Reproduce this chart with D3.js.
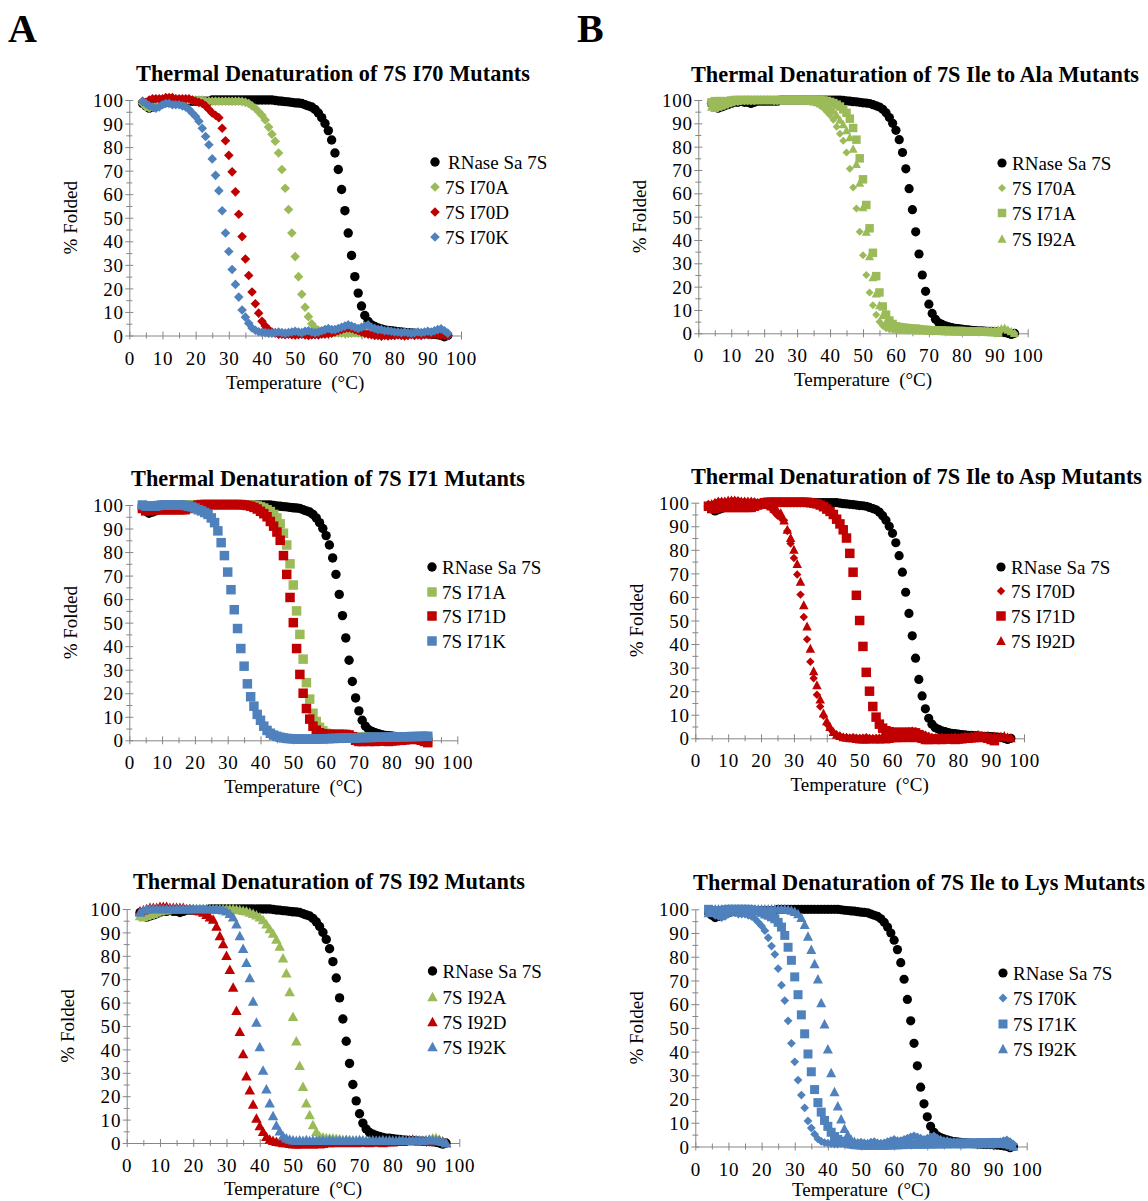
<!DOCTYPE html>
<html>
<head>
<meta charset="utf-8">
<script src="https://cdn.jsdelivr.net/npm/d3@7"></script>
<style>
  body { margin: 0; background: #fff; }
  svg { display: block; }
  text { font-family: "Liberation Serif", "Times New Roman", serif; fill: #000; }
</style>
</head>
<body>
<script>
// Temperature grid of the melts (°C)
const temps = [
   4,  5,  6,  7,  8,  9, 10, 11, 12, 13,
  14, 15, 16, 17, 18, 19, 20, 21, 22, 23,
  24, 25, 26, 27, 28, 29, 30, 31, 32, 33,
  34, 35, 36, 37, 38, 39, 40, 41, 42, 43,
  44, 45, 46, 47, 48, 49, 50, 51, 52, 53,
  54, 55, 56, 57, 58, 59, 60, 61, 62, 63,
  64, 65, 66, 67, 68, 69, 70, 71, 72, 73,
  74, 75, 76, 77, 78, 79, 80, 81, 82, 83,
  84, 85, 86, 87, 88, 89, 90, 91, 92, 93,
  94, 95, 96
];

// % folded, one value per temperature above
const rnase7S = [
  98.5, 97.5, 96.5, 97, 97.5, 98, 98.5, 99, 99, 99.5,
  99, 99, 98.5, 99, 99.5, 99.5, 99.5, 99.5, 99.5, 99.5,
  99.5, 100, 100, 100, 100, 100, 100, 100, 100, 100,
  100, 100, 100, 100, 100, 100, 100, 100, 100, 100,
  99.8, 99.6, 99.5, 99.3, 99.2, 99, 98.8, 98.7, 98.5, 98,
  97.5, 97, 96, 94.5, 92.5, 90, 87, 83, 77.5, 70.5,
  62, 53, 43.5, 34, 25, 18, 12.5, 8.5, 6, 4.5,
  3.8, 3.2, 2.8, 2.4, 2.1, 2, 1.8, 1.6, 1.5, 1.3,
  1.2, 1.1, 1, 0.9, 0.8, 0.8, 0.7, 0.6, 0.5, 0.3,
  0, -0.5, 0
];
const i70A = [
  98.5, 97, 96.5, 97, 97.5, 98, 98.5, 99, 99, 99.5,
  99.5, 99.5, 99.5, 99.5, 100, 100, 100, 100, 100, 99.5,
  99.5, 99.5, 99.5, 99.5, 99.5, 99.5, 99.5, 99.5, 99.5, 99.5,
  99.3, 99, 98.5, 97.5, 96.5, 95, 93.5, 91.5, 88.5, 85.5,
  82.5, 77.5, 70.5, 62.5, 53.5, 43.5, 33.5, 25, 17.5, 12,
  8, 5, 3.2, 2.2, 1.7, 1.5, 1.3, 1.2, 1.2, 1.1,
  1, 1, 0.9, 1, 1.1, 1, 0.9, 0.8, 1, 0.9,
  0.8, 0.9, 1, 0.8, 0.7, 0.8, 0.9, 0.7, 0.8, 0.6,
  0.7, 0.8, 0.6, 0.5, 0.7, 0.8, 1, 1.2, 1.5, 1.8,
  1.2, 0.5, 0
];
const i70D = [
  99.5, 99, 100, 100.5, 100.5, 100.5, 100.5, 101, 101, 101,
  100.5, 100.5, 100.5, 100.5, 100.5, 100, 99.5, 99, 98.5, 97.5,
  96, 94.5, 93.5, 92.5, 88, 82.7, 76.5, 69.5, 61, 51.5,
  42, 32.5, 25.5, 18.5, 13.5, 9.5, 6, 4, 2.5, 1.5,
  1, 0.5, 0.5, 0.3, 0.5, 0.3, 0.2, 0.3, 0.5, 0.2,
  0, 0.2, 0.3, 0.2, 0.5, 0.6, 0.8, 1, 1.5, 2,
  2.5, 3, 3.2, 3, 2.5, 2, 1.5, 1, 0.5, 0.3,
  0, 0, -0.3, 0, -0.2, 0, 0, 0.2, 0, -0.2,
  0, 0.3, 0, 0.2, 0, 0.3, 0.5, 0.3, 0.5, 0.3,
  0.2, 0, 0
];
const i70K = [
  99.5, 98.5, 97.5, 97, 96.5, 97, 98, 98.5, 98.5, 98,
  98, 98, 97.5, 97, 96, 94.5, 93, 91, 88, 84.5,
  81, 75, 68, 61.5, 53, 43.5, 35.7, 28, 21.7, 16.3,
  10.8, 7.8, 5.2, 3.2, 2.2, 1.6, 1.4, 1.2, 1, 1,
  1.2, 1.5, 1.2, 1, 1.3, 1.5, 1.8, 1.5, 1.2, 1.8,
  2, 1.5, 1.2, 1.5, 2, 2.5, 3, 2.5, 2.5, 3,
  3.5, 4, 4.5, 4, 3.5, 3, 3.5, 4, 4.5, 3.5,
  3, 2.5, 2.5, 2, 2, 1.8, 1.5, 1.5, 1.2, 1.5,
  1.2, 1, 1.2, 1.5, 1.2, 1.5, 1.8, 1.5, 2, 2.5,
  2.8, 2, 1
];
// I71 melts stop at 91 °C
const i71A = [
  99, 99.5, 99.5, 99.5, 99.5, 99.5, 99.8, 100, 100, 100,
  100, 100, 100, 100, 100, 100, 100, 100, 100, 100,
  100, 100, 100, 100, 100, 100, 100, 100, 100, 100,
  100, 100, 100, 100, 99.8, 99.6, 99.2, 98.7, 98, 97.2,
  96, 94.5, 92, 88, 83, 75, 66, 55, 45, 34.5,
  24.5, 17.5, 11.5, 8, 5.5, 4, 3, 2.7, 2.5, 2.3,
  2.2, 2, 2, 1.8, 1.6, 1.5, 1.4, 1.3, 1.3, 1.2,
  1.2, 1.1, 1.1, 1, 1, 1, 1, 0.9, 0.9, 0.8,
  0.8, 0.8, 0.7, 0.7, 0.6, 0.5, 0.5, 0.3
];
const i71D = [
  98.5, 97.5, 97.5, 98, 98, 98, 98, 98, 98, 98,
  98, 98, 98, 98, 98.5, 99, 99.5, 100, 100.2, 100.2,
  100.2, 100.2, 100.2, 100.2, 100.2, 100.2, 100.2, 100.2, 100.2, 100.2,
  100.2, 100, 99.8, 99.5, 99, 98.3, 97.3, 96.3, 95, 93,
  91, 88.5, 85, 78.5, 70.5, 60.7, 50, 39, 28, 20,
  13.5, 9, 6, 4.3, 3.2, 2.8, 2.5, 2.5, 2.5, 2.5,
  2.5, 2.5, 2.5, 2.3, 1.5, 0, -0.5, -0.5, -0.3, -0.5,
  -0.3, -0.5, -0.3, -0.2, -0.3, -0.5, -0.3, -0.2, 0, 0,
  0.2, 0.3, 0.5, 0.5, 0.3, 0, -0.5, -1
];
const i71K = [
  100, 99.5, 99.5, 99.5, 99.5, 99.8, 100, 100, 100, 100,
  100, 100, 100, 99.8, 99.5, 99.2, 98.7, 98, 97.5, 96.8,
  96, 94.5, 92.5, 89, 84, 78.5, 71.5, 64, 55.5, 47.5,
  39, 31.5, 24, 18.5, 14.5, 11, 8.5, 6, 4.2, 3,
  2.2, 1.7, 1.3, 1, 0.8, 0.7, 0.6, 0.5, 0.5, 0.5,
  0.5, 0.5, 0.5, 0.5, 0.6, 0.6, 0.7, 0.7, 0.8, 0.8,
  0.9, 0.9, 1, 1, 1, 1, 1.1, 1.1, 1.2, 1.2,
  1.2, 1.3, 1.3, 1.3, 1.3, 1.4, 1.4, 1.4, 1.5, 1.5,
  1.5, 1.5, 1.6, 1.6, 1.6, 1.7, 1.7, 1.7
];
const i92A = [
  97, 96.5, 97, 97.5, 98, 98.5, 99, 99.5, 99.5, 100,
  100, 100, 100, 100, 100, 100, 100, 100, 100, 100,
  100, 100, 100, 100, 100, 100, 100, 100, 100, 99.8,
  99.6, 99.3, 99, 98.5, 98, 97.3, 96.5, 95.3, 93.5, 91.5,
  89.5, 87, 84, 79, 72.5, 64.5, 54, 43.5, 33, 24,
  17, 12, 7.7, 4.8, 2.9, 2.5, 2.2, 2, 2, 1.8,
  1.6, 1.4, 1.3, 1.2, 1.2, 1.1, 1, 1, 0.9, 0.9,
  0.8, 0.8, 0.8, 0.7, 0.7, 0.7, 0.6, 0.6, 0.6, 0.5,
  0.5, 0.5, 0.5, 0.6, 0.8, 1, 1.2, 1.5, 2, 2.2,
  1.5, 0.8, 0
];
const i92D = [
  99, 99.5, 100, 100.5, 100.5, 100.5, 101, 101, 101, 100.5,
  100.5, 100.5, 100.5, 100.5, 100, 100, 99.8, 99.5, 99, 98.5,
  97.5, 96.5, 95.5, 92.5, 88.5, 85, 80, 74, 66.5, 56.5,
  47.5, 38, 28.5, 22.5, 16.5, 10.5, 7.3, 4.8, 2.7, 1.5,
  1, 0.5, 0.3, 0, 0, -0.3, -0.5, -0.5, -0.5, -0.5,
  -0.3, -0.5, -0.5, -0.3, -0.5, -0.3, 0, 0, 0.2, 0,
  0.3, 0.2, 0, 0.2, 0.3, 0, 0.2, 0.3, 0.2, 0,
  0.3, 0.5, 0.2, 0, 0.3, 0.5, 0.3, 0.5, 0.8, 0.5,
  1, 1.2, 1.5, 1, 0.8, 1, 0.5, 0.8, 0.5, 0.8,
  1, 0.5, 0
];
const i92K = [
  98.5, 99.5, 100, 100, 100, 100, 100, 100, 100, 100,
  100, 100, 100, 100, 100, 100, 100, 100, 100, 100,
  100, 100, 100, 100, 99.8, 99.5, 99, 98, 96.5, 93.5,
  88.5, 83, 77, 70.5, 60.5, 51.5, 41, 31, 23, 17,
  11.5, 7.5, 5, 3, 2, 1.5, 1.2, 1, 1.2, 1,
  1.3, 1, 1.2, 1, 1.1, 1.2, 1, 1.3, 1.1, 1,
  1.2, 1, 1.3, 1.2, 1, 1.1, 1.3, 1.2, 1, 1.1,
  1.2, 1, 1.1, 1.3, 1, 1.2, 1.1, 1, 1.2, 1.3,
  1, 1.2, 1.1, 1.3, 1.2, 1, 1.2, 1.5, 1.3, 1.2,
  1, 0.5, 0
];

// Axis ticks
const labelTicks = [0, 10, 20, 30, 40, 50, 60, 70, 80, 90, 100];
const minorTicks = [5, 15, 25, 35, 45, 55, 65, 75, 85, 95];

const BLACK = "#000000", GREEN = "#9BBB59", RED = "#C00000", BLUE = "#4F81BD";
const AXIS = "#868686";
const SERIF = '"Liberation Serif", "Times New Roman", serif';

const rn = { name: "RNase Sa 7S", data: rnase7S, color: BLACK, shape: "circle" };

const panels = [
  { title: "Thermal Denaturation of 7S I70 Mutants", tx: 136, ty: 81, tw: 394,
    x0: 129.3, x1: 461, y0: 335.5, y1: 100, tMax: 96, xtDy: 53,
    legX: 435, legY: [162, 187, 212, 237], legDx: [13, 10, 10, 10],
    sz: { r: 4.7, d: 4.8, q: 9, tw: 10, th: 9 },
    series: [rn,
      { name: "7S I70A", data: i70A, color: GREEN, shape: "diamond" },
      { name: "7S I70D", data: i70D, color: RED, shape: "diamond" },
      { name: "7S I70K", data: i70K, color: BLUE, shape: "diamond" }] },
  { title: "Thermal Denaturation of 7S Ile to Ala Mutants", tx: 691, ty: 82, tw: 448,
    x0: 698.3, x1: 1027.7, y0: 333.3, y1: 100, tMax: 96, xtDy: 53,
    legX: 1002, legY: [163, 188, 213, 239], legDx: [10, 10, 10, 10],
    sz: { r: 4.6, d: 4, q: 8.5, tw: 9, th: 8.5 },
    series: [rn,
      { name: "7S I70A", data: i70A, color: GREEN, shape: "diamond" },
      { name: "7S I71A", data: i71A, color: GREEN, shape: "square" },
      { name: "7S I92A", data: i92A, color: GREEN, shape: "triangle" }] },
  { title: "Thermal Denaturation of 7S I71 Mutants", tx: 131, ty: 486, tw: 394,
    x0: 129.3, x1: 457.3, y0: 740.3, y1: 505, tMax: 91, xtDy: 53,
    legX: 432, legY: [567, 592, 616, 641], legDx: [10, 10, 10, 10],
    sz: { r: 4.7, d: 4.5, q: 9.5, tw: 10, th: 9 },
    series: [rn,
      { name: "7S I71A", data: i71A, color: GREEN, shape: "square" },
      { name: "7S I71D", data: i71D, color: RED, shape: "square" },
      { name: "7S I71K", data: i71K, color: BLUE, shape: "square" }] },
  { title: "Thermal Denaturation of 7S Ile to Asp Mutants", tx: 691, ty: 484, tw: 451,
    x0: 695.3, x1: 1024, y0: 738.3, y1: 502.7, tMax: 96, xtDy: 53,
    legX: 1001, legY: [567, 591, 616, 641], legDx: [10, 10, 10, 10],
    sz: { r: 4.6, d: 4.2, q: 9.5, tw: 9.5, th: 9 },
    series: [rn,
      { name: "7S I70D", data: i70D, color: RED, shape: "diamond" },
      { name: "7S I71D", data: i71D, color: RED, shape: "square" },
      { name: "7S I92D", data: i92D, color: RED, shape: "triangle" }] },
  { title: "Thermal Denaturation of 7S I92 Mutants", tx: 133, ty: 889, tw: 392,
    x0: 126.7, x1: 459.3, y0: 1143, y1: 909, tMax: 96, xtDy: 52,
    legX: 432.5, legY: [971, 997, 1022, 1047], legDx: [10, 10, 10, 10],
    sz: { r: 4.7, d: 4.5, q: 9, tw: 10.5, th: 9.5 },
    series: [rn,
      { name: "7S I92A", data: i92A, color: GREEN, shape: "triangle" },
      { name: "7S I92D", data: i92D, color: RED, shape: "triangle" },
      { name: "7S I92K", data: i92K, color: BLUE, shape: "triangle" }] },
  { title: "Thermal Denaturation of 7S Ile to Lys Mutants", tx: 693, ty: 890, tw: 452,
    x0: 695.3, x1: 1026.7, y0: 1146.5, y1: 909.3, tMax: 96, xtDy: 49,
    legX: 1003, legY: [973, 998, 1024, 1049], legDx: [10, 10, 10, 10],
    sz: { r: 4.6, d: 4.4, q: 9, tw: 10, th: 9.5 },
    series: [rn,
      { name: "7S I70K", data: i70K, color: BLUE, shape: "diamond" },
      { name: "7S I71K", data: i71K, color: BLUE, shape: "square" },
      { name: "7S I92K", data: i92K, color: BLUE, shape: "triangle" }] }
];

// Excel-style marker outlines
function markerPath(shape, s) {
  const p = d3.path();
  if (shape === "circle") {
    p.moveTo(s.r, 0);
    p.arc(0, 0, s.r, 0, 2 * Math.PI);
  } else if (shape === "diamond") {
    p.moveTo(0, -s.d); p.lineTo(s.d, 0); p.lineTo(0, s.d); p.lineTo(-s.d, 0); p.closePath();
  } else if (shape === "square") {
    p.rect(-s.q / 2, -s.q / 2, s.q, s.q);
  } else {
    p.moveTo(0, -s.th * 0.55); p.lineTo(s.tw / 2, s.th * 0.45); p.lineTo(-s.tw / 2, s.th * 0.45); p.closePath();
  }
  return p.toString();
}

const svg = d3.select("body").append("svg")
  .attr("width", 1148).attr("height", 1201);

svg.append("text").attr("x", 8).attr("y", 42)
  .attr("font-size", 40).attr("font-weight", "bold").text("A");
svg.append("text").attr("x", 577).attr("y", 42)
  .attr("font-size", 40).attr("font-weight", "bold").text("B");

panels.forEach(p => {
  const x = d3.scaleLinear().domain([0, 100]).range([p.x0, p.x1]);
  const y = d3.scaleLinear().domain([0, 100]).range([p.y0, p.y1]);
  const g = svg.append("g");

  // title
  g.append("text").attr("x", p.tx).attr("y", p.ty)
    .attr("font-size", 22.3).attr("font-weight", "bold")
    .attr("textLength", p.tw).attr("lengthAdjust", "spacing")
    .text(p.title);

  // x axis: labelled ticks every 10, plain ticks in between
  const gx = g.append("g").attr("transform", `translate(0,${p.y0})`)
    .call(d3.axisBottom(x).tickValues(labelTicks).tickSizeOuter(0).tickSizeInner(4));
  const gxm = g.append("g").attr("transform", `translate(0,${p.y0})`)
    .call(d3.axisBottom(x).tickValues(minorTicks).tickFormat("").tickSizeOuter(0).tickSizeInner(3));
  gxm.select(".domain").remove();
  gx.selectAll(".tick line").attr("y1", -4).attr("y2", 4);
  gxm.selectAll(".tick line").attr("y1", -3).attr("y2", 3);
  gx.selectAll(".tick text").attr("y", 29).attr("dy", 0);

  // y axis
  const gy = g.append("g").attr("transform", `translate(${p.x0},0)`)
    .call(d3.axisLeft(y).tickValues(labelTicks).tickSizeOuter(0).tickSizeInner(4));
  const gym = g.append("g").attr("transform", `translate(${p.x0},0)`)
    .call(d3.axisLeft(y).tickValues(minorTicks).tickFormat("").tickSizeOuter(0).tickSizeInner(3));
  gym.select(".domain").remove();
  gy.selectAll(".tick line").attr("x1", -4).attr("x2", 4);
  gym.selectAll(".tick line").attr("x1", -3).attr("x2", 3);
  gy.selectAll(".tick text").attr("x", -5.5).attr("dy", "0.35em");

  [gx, gxm, gy, gym].forEach(a => {
    a.attr("font-size", 19).attr("font-family", SERIF);
    a.selectAll("line, path").attr("stroke", AXIS);
    a.selectAll("text").attr("fill", "#000")
      .style("font-family", SERIF).style("font-size", "19px").style("letter-spacing", "0.8px");
  });

  // axis titles
  g.append("text")
    .attr("x", (p.x0 + p.x1) / 2).attr("y", p.y0 + p.xtDy)
    .attr("text-anchor", "middle").attr("font-size", 19)
    .style("white-space", "pre")
    .text("Temperature  (°C)");
  g.append("text")
    .attr("transform", `translate(${p.x0 - 59},${(p.y0 + p.y1) / 2}) rotate(-90)`)
    .attr("text-anchor", "middle").attr("dy", "0.35em").attr("font-size", 19)
    .text("% Folded");

  // data markers
  p.series.forEach(s => {
    const pts = s.data.map((v, i) => ({ t: temps[i], v })).filter(d => d.t <= p.tMax);
    const shapeD = markerPath(s.shape, p.sz);
    g.append("g").selectAll("path").data(pts).join("path")
      .attr("d", shapeD)
      .attr("transform", d => `translate(${x(d.t)},${y(d.v)})`)
      .attr("fill", s.color);
  });

  // legend
  const lg = g.append("g");
  p.series.forEach((s, i) => {
    lg.append("path").attr("d", markerPath(s.shape, p.sz))
      .attr("transform", `translate(${p.legX},${p.legY[i]})`)
      .attr("fill", s.color);
    lg.append("text").attr("x", p.legX + p.legDx[i]).attr("y", p.legY[i])
      .attr("dy", "0.35em").attr("font-size", 19).text(s.name);
  });
});
</script>
</body>
</html>
